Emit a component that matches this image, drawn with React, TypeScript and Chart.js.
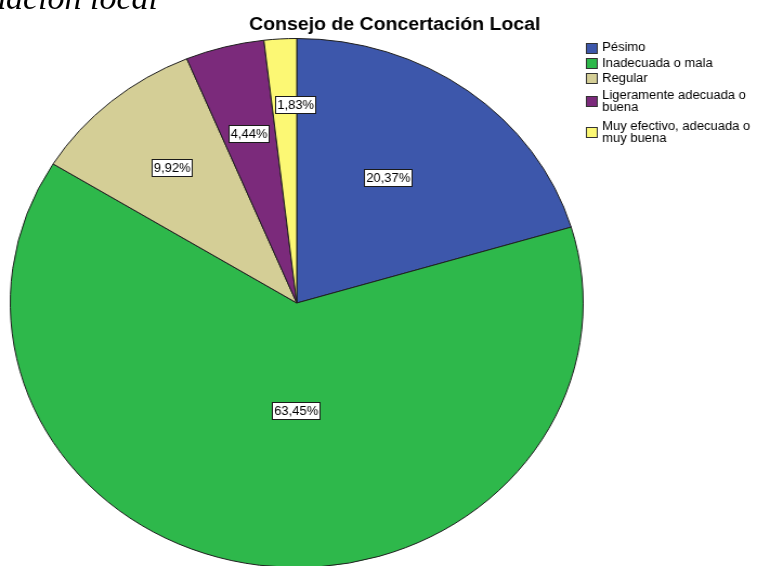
import { useEffect, useRef } from "react";
import { Chart, registerables } from "chart.js";

Chart.register(...registerables);

// ---- data ----
const categories = [
  "Pésimo",
  "Inadecuada o mala",
  "Regular",
  "Ligeramente adecuada o buena",
  "Muy efectivo, adecuada o muy buena",
];
const legendLines = [
  ["Pésimo"],
  ["Inadecuada o mala"],
  ["Regular"],
  ["Ligeramente adecuada o", "buena"],
  ["Muy efectivo, adecuada o", "muy buena"],
];
const percentages = [20.37, 63.45, 9.92, 4.44, 1.83];
const sliceColors = ["#3D57AB", "#2EB84B", "#D4CE96", "#7B2A7B", "#FCF874"];
const chartTitle = "Consejo de Concertación Local";
const pageHeading = "uación local";

// ---- layout ----
const STRETCH = 757 / 699;
const CANVAS_W = 699;
const CANVAS_H = 570;
const labelRadius = [0.57, 0.41, 0.67, 0.66, 0.75];
const labelShiftDeg = [-2.7, -7.5, 0, 0, 3];
const FONT_FAMILY = '"Liberation Sans", Arial, Helvetica, sans-serif';

const fmt = (v: number) => v.toFixed(2).replace(".", ",") + "%";

const overlayPlugin = {
  id: "overlay",
  afterDatasetsDraw(chart: any) {
    const ctx: CanvasRenderingContext2D = chart.ctx;
    const meta = chart.getDatasetMeta(0);
    ctx.save();

    // slice labels
    ctx.font = "12px " + FONT_FAMILY;
    ctx.textAlign = "center";
    ctx.textBaseline = "middle";
    meta.data.forEach((arc: any, i: number) => {
      const p = arc.getProps(["x", "y", "startAngle", "endAngle", "outerRadius"], true);
      const mid = (p.startAngle + p.endAngle) / 2 + (labelShiftDeg[i] * Math.PI) / 180;
      const r = p.outerRadius * labelRadius[i];
      const x = p.x + Math.cos(mid) * r;
      const y = p.y + Math.sin(mid) * r;
      const text = fmt(percentages[i]);
      const w = Math.round(ctx.measureText(text).width + 4);
      const h = 18;
      const left = Math.round(x - w / 2);
      const top = Math.round(y - h / 2);
      ctx.fillStyle = "#ffffff";
      ctx.fillRect(left, top, w, h);
      ctx.strokeStyle = "#1a1a1a";
      ctx.lineWidth = 1;
      ctx.strokeRect(left + 0.5, top + 0.5, w - 1, h - 1);
      ctx.fillStyle = "#000000";
      ctx.fillText(text, left + w / 2, top + h / 2 + 0.5);
    });

    // title
    ctx.font = "bold 18px " + FONT_FAMILY;
    ctx.textAlign = "center";
    ctx.textBaseline = "alphabetic";
    ctx.fillStyle = "#000000";
    ctx.fillText(chartTitle, 364.5, 30);

    // legend
    ctx.font = "12px " + FONT_FAMILY;
    ctx.textAlign = "left";
    ctx.textBaseline = "middle";
    let cursor = 48;
    legendLines.forEach((lines, i) => {
      const multi = lines.length > 1;
      if (multi) cursor += 2;
      const first = cursor;
      const last = first + (lines.length - 1) * 11.5;
      const center = (first + last) / 2;
      const sq = 11;
      const sx = 541;
      const sy = Math.round(center - sq / 2);
      ctx.fillStyle = sliceColors[i];
      ctx.fillRect(sx, sy, sq, sq);
      ctx.strokeStyle = "#333333";
      ctx.lineWidth = 1;
      ctx.strokeRect(sx + 0.5, sy + 0.5, sq - 1, sq - 1);
      ctx.fillStyle = "#000000";
      lines.forEach((ln, k) => ctx.fillText(ln, 556, first + k * 11.5));
      cursor = last + 15.3 + (multi ? 2 : 0);
    });

    ctx.restore();
  },
};

export default function App() {
  const ref = useRef<HTMLCanvasElement | null>(null);

  useEffect(() => {
    if (!ref.current) return;
    const chart = new Chart(ref.current, {
      type: "pie",
      data: {
        labels: categories,
        datasets: [
          {
            data: percentages,
            backgroundColor: sliceColors,
            borderColor: "#1e1e1e",
            borderWidth: 1,
            clip: false as any,
          },
        ],
      },
      options: {
        responsive: false,
        animation: false,
        events: [],
        layout: { padding: { left: 9, right: 160, top: 38, bottom: 2 } },
        plugins: {
          legend: { display: false },
          title: { display: false },
          tooltip: { enabled: false },
        },
      },
      plugins: [overlayPlugin],
    });
    return () => chart.destroy();
  }, []);

  return (
    <div
      style={{
        position: "fixed",
        left: 0,
        top: 0,
        width: 757,
        height: 566,
        overflow: "hidden",
        background: "#ffffff",
      }}
    >
      <div
        style={{
          position: "absolute",
          left: 0,
          top: 0,
          width: CANVAS_W,
          height: CANVAS_H,
          transform: `scaleX(${STRETCH})`,
          transformOrigin: "0 0",
        }}
      >
        <canvas ref={ref} width={CANVAS_W} height={CANVAS_H} />
      </div>
      <div
        style={{
          position: "absolute",
          left: -11,
          top: -19,
          fontFamily: '"Liberation Serif", "Times New Roman", serif',
          fontStyle: "italic",
          fontSize: 34,
          lineHeight: "34px",
          whiteSpace: "nowrap",
          color: "#000",
        }}
      >
        {pageHeading}
      </div>
    </div>
  );
}
